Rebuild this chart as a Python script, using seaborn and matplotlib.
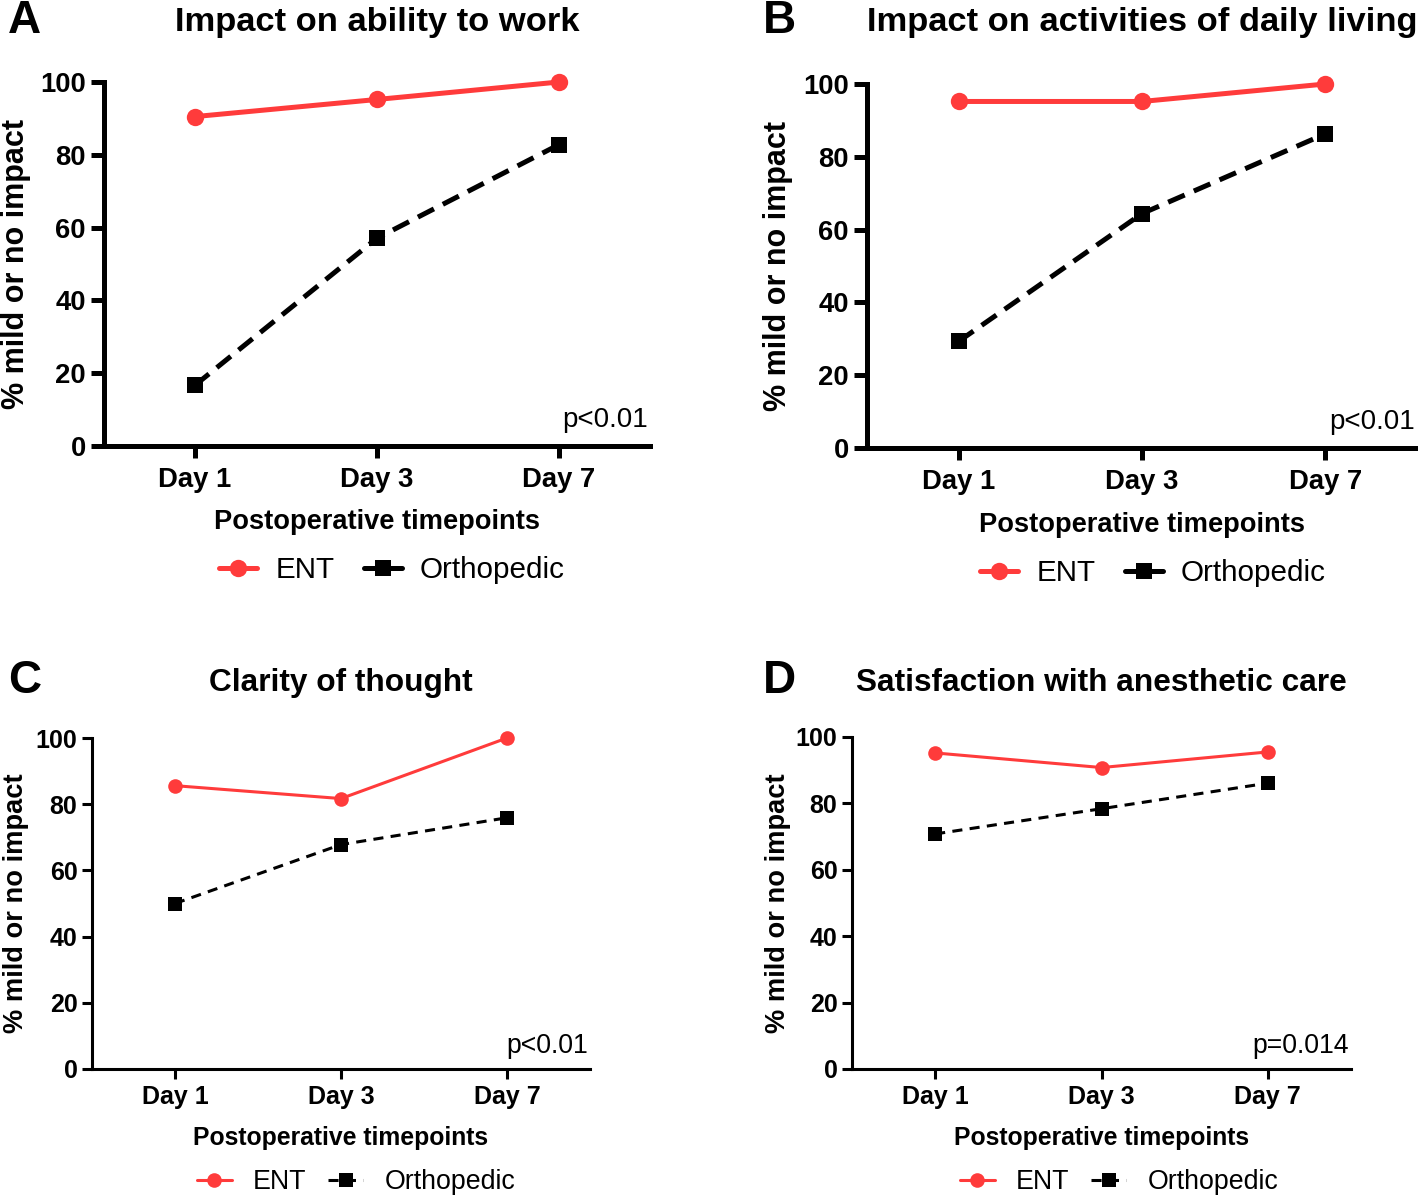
import matplotlib
matplotlib.use("Agg")
import matplotlib.pyplot as plt
import pandas as pd
import seaborn as sns

# ---------------- data ----------------
days = ["Day 1", "Day 3", "Day 7"]
groups = ["ENT", "Orthopedic"]
titles = ["Impact on ability to work",
          "Impact on activities of daily living",
          "Clarity of thought",
          "Satisfaction with anesthetic care"]
letters = ["A", "B", "C", "D"]
p_values = ["p<0.01", "p<0.01", "p<0.01", "p=0.014"]
ent_work = [90.5, 95.2, 100.0]
ortho_work = [16.7, 57.1, 82.8]
ent_adl = [95.2, 95.2, 100.0]
ortho_adl = [29.3, 64.4, 86.3]
ent_clarity = [85.6, 81.7, 100.0]
ortho_clarity = [50.0, 67.8, 75.9]
ent_satisfaction = [95.2, 90.8, 95.5]
ortho_satisfaction = [70.8, 78.4, 86.1]
y_ticks = [0, 20, 40, 60, 80, 100]
x_label = "Postoperative timepoints"
y_label = "% mild or no impact"

ent_series = [ent_work, ent_adl, ent_clarity, ent_satisfaction]
ortho_series = [ortho_work, ortho_adl, ortho_clarity, ortho_satisfaction]

# ---------------- style ----------------
sns.set_style("ticks")
plt.rcParams["font.family"] = ["Liberation Sans", "DejaVu Sans"]
for k in ["text.color", "axes.labelcolor", "xtick.color", "ytick.color", "axes.edgecolor"]:
    plt.rcParams[k] = "black"

W, H = 1418, 1200
fig = plt.figure(figsize=(W / 100, H / 100), dpi=100)

RED = "#FF3B3B"
BLACK = "#000000"

# panel layout in pixels: left, right, top, bottom
panels = [
    dict(L=104, R=650, T=82, B=446, big=True, title_y=22, xlab_y=522, leg=(392, 570), p_y=427, ylab_x=16),
    dict(L=867, R=1417, T=84, B=448, big=True, title_y=22, xlab_y=525, leg=(1153, 573), p_y=429, ylab_x=778),
    dict(L=92, R=590, T=738, B=1069, big=False, title_y=683, xlab_y=1138, leg=(356, 1182), p_y=1053, ylab_x=16),
    dict(L=852, R=1351, T=737, B=1069, big=False, title_y=683, xlab_y=1138, leg=(1119, 1182), p_y=1053, ylab_x=778),
]
letter_pos = [(8, 21), (763, 21), (8, 681), (763, 681)]

for i, pn in enumerate(panels):
    L, R, T, B = pn["L"], pn["R"], pn["T"], pn["B"]
    ax = fig.add_axes([L / W, 1 - B / H, (R - L) / W, (B - T) / H])
    big = pn["big"]
    lw = 3.6 if big else 2.2
    spw = 3.6 if big else 2.2
    ms_c = 12.5 if big else 10.5
    ms_s = 11.5 if big else 9.5
    dash = (3.6, 2.0) if big else (3.3, 2.4)
    tick_fs = 19.8 if big else 18
    lab_fs = 19.6 if big else 17.8
    ylab_fs = 22 if big else 19.6
    title_fs = 24.8 if big else 22.8
    leg_fs = 21.3 if big else 19.3
    p_fs = 20 if big else 19.2

    df_ent = pd.DataFrame({"day": days, "value": ent_series[i]})
    df_ort = pd.DataFrame({"day": days, "value": ortho_series[i]})

    sns.lineplot(data=df_ent, x="day", y="value", ax=ax, color=RED, lw=lw,
                 marker="o", markersize=ms_c, markeredgewidth=0,
                 markerfacecolor=RED, label=groups[0], clip_on=False, zorder=3)
    sns.lineplot(data=df_ort, x="day", y="value", ax=ax, color=BLACK, lw=lw,
                 linestyle=(0, dash), marker="s", markersize=ms_s,
                 markeredgewidth=0, markerfacecolor=BLACK, label=groups[1],
                 clip_on=False, zorder=3)

    ax.set_xlim(-0.5, 2.5)
    ax.set_ylim(0, 100)
    ax.set_xticks(range(len(days)))
    ax.set_xticklabels(days)
    ax.set_yticks(y_ticks)
    ax.set_yticklabels([str(v) for v in y_ticks])
    for lab in ax.get_xticklabels() + ax.get_yticklabels():
        lab.set_fontweight("bold")
        lab.set_fontsize(tick_fs)
    sns.despine(ax=ax)
    for s in ["left", "bottom"]:
        ax.spines[s].set_linewidth(spw)
        ax.spines[s].set_color("black")
    ax.spines["left"].set_capstyle("projecting")
    ax.tick_params(axis="y", width=spw, length=9.5 if big else 7.5, pad=3.5 if big else 3)
    ax.tick_params(axis="x", width=spw, length=8.6 if big else 7, pad=6.5 if big else 4.5)

    ax.set_xlabel(x_label, fontsize=lab_fs, fontweight="bold")
    ax.xaxis.label.set_va("center")
    ax.xaxis.set_label_coords(0.5, (B - pn["xlab_y"]) / (B - T))
    ax.set_ylabel(y_label, fontsize=ylab_fs, fontweight="bold")
    ax.yaxis.label.set_va("center")
    ax.yaxis.set_label_coords((pn["ylab_x"] - L) / (R - L), 0.5)

    ax.text(1.0 - 2 / (R - L), (B - pn["p_y"]) / (B - T), p_values[i],
            transform=ax.transAxes, ha="right", va="baseline", fontsize=p_fs)

    fig.text((L + R) / 2 / W, 1 - pn["title_y"] / H, titles[i], ha="center",
             va="center", fontsize=title_fs, fontweight="bold")
    lx, ly = letter_pos[i]
    fig.text(lx / W, 1 - ly / H, letters[i], ha="left", va="center",
             fontsize=33, fontweight="bold")

    leg = ax.legend(loc="center", bbox_to_anchor=(pn["leg"][0] / W, 1 - pn["leg"][1] / H),
                    bbox_transform=fig.transFigure, ncol=2, frameon=False,
                    fontsize=leg_fs, handlelength=1.3, handletextpad=0.6 if big else 0.8,
                    columnspacing=1.0 if big else 0.8, borderaxespad=0, borderpad=0)
    if big:
        leg.get_lines()[1].set_linestyle("-")

fig.savefig("out.png", dpi=100)
